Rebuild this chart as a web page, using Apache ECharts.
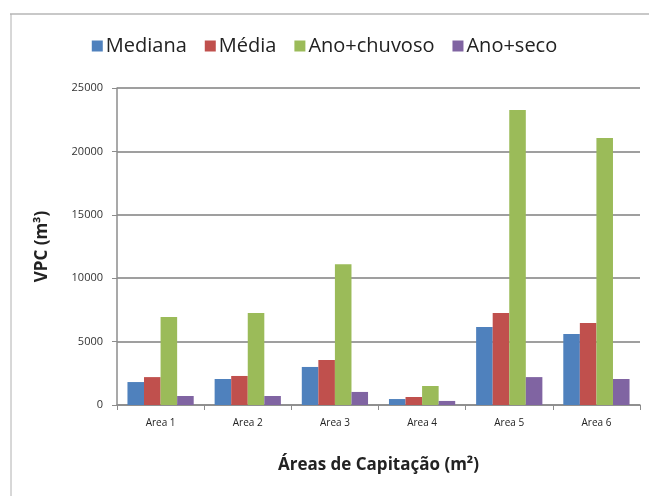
<!DOCTYPE html>
<html><head><meta charset="utf-8">
<script src="https://cdn.jsdelivr.net/npm/echarts@6/dist/echarts.min.js"></script>
<style>html,body{margin:0;padding:0;background:#fff}#c{width:649px;height:496px}</style>
</head><body><div id="c"></div>
<script>
var categories = ['Area 1','Area 2','Area 3','Area 4','Area 5','Area 6'];
var mediana = [1810, 2050, 3000, 470, 6150, 5600];
var media = [2200, 2290, 3550, 630, 7250, 6470];
var anoChuvoso = [6940, 7250, 11100, 1500, 23260, 21050];
var anoSeco = [710, 710, 1030, 320, 2200, 2050];
var seriesNames = ['Mediana','Média','Ano+chuvoso','Ano+seco'];
var yTicks = [0, 5000, 10000, 15000, 20000, 25000];
var colors = ['#4F81BD','#C0504D','#9BBB59','#8064A2'];

var chart = echarts.init(document.getElementById('c'), null, {renderer:'canvas'});
var font = '"Open Sans", "DejaVu Sans", sans-serif';
var data = [mediana, media, anoChuvoso, anoSeco];
chart.setOption({
  animation: false,
  color: colors,
  textStyle: {fontFamily: font},
  graphic: [
    {type:'line', shape:{x1:10,y1:14,x2:649,y2:14}, style:{stroke:'#c8c8c8', lineWidth:2}},
    {type:'line', shape:{x1:11,y1:14,x2:11,y2:496}, style:{stroke:'#b0b0b0', lineWidth:1}}
  ],
  legend: {
    top: 31, left: 'center',
    itemWidth: 11, itemHeight: 11, itemGap: 18,
    icon: 'rect',
    textStyle: {fontSize: 20, color: '#222', fontFamily: font, padding: [0,0,0,-2]},
    data: seriesNames
  },
  grid: {left: 117, right: 9, top: 88, bottom: 91},
  xAxis: {
    type: 'category', data: categories,
    name: 'Áreas de Capitação (m²)', nameLocation: 'middle', nameGap: 52,
    nameTextStyle: {fontSize: 17, fontWeight: 'bold', color: '#222'},
    axisLine: {lineStyle: {color: '#8c8c8c', width: 1.5}},
    axisTick: {show: true, length: 5, lineStyle: {color: '#8c8c8c'}},
    axisLabel: {fontSize: 10, color: '#222', margin: 13}
  },
  yAxis: {
    type: 'value', min: yTicks[0], max: yTicks[yTicks.length-1], interval: yTicks[1]-yTicks[0],
    name: 'VPC (m³)', nameLocation: 'middle', nameGap: 66,
    nameTextStyle: {fontSize: 17, fontWeight: 'bold', color: '#222'},
    axisLine: {show: true, lineStyle: {color: '#8c8c8c', width: 1.5}},
    axisTick: {show: true, length: 5, lineStyle: {color: '#8c8c8c'}},
    axisLabel: {fontSize: 11, color: '#333', margin: 14, formatter: function(v){return String(v);}},
    splitLine: {lineStyle: {color: '#7f7f7f', width: 1.5}}
  },
  series: seriesNames.map(function(n, i){
    return {name: n, type: 'bar', data: data[i], barGap: '0%', barCategoryGap: '24%'};
  })
});
</script></body></html>
